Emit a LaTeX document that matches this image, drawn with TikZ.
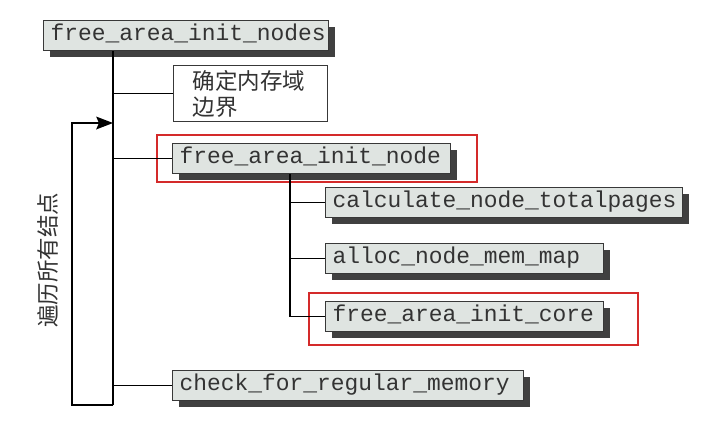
\documentclass[tikz,border=0pt]{standalone}
\usepackage{fontspec}
\setmonofont{Liberation Mono}
\newfontfamily\cjkfont{Noto Sans CJK SC}
\usetikzlibrary{shadows,arrows.meta}
\definecolor{boxfill}{HTML}{DFE4E1}
\definecolor{boxline}{HTML}{383838}
\definecolor{shadowgray}{HTML}{404040}
\definecolor{markred}{HTML}{D42A2A}
\tikzset{
  fnbox/.style={draw=boxline, fill=boxfill, line width=0.8pt, anchor=north west,
    minimum height=0.75cm, inner xsep=0.175cm, inner ysep=0pt, align=left,
    text height=0.32cm, text depth=0.08cm, text=black!80,
    font=\ttfamily\fontsize{16.3}{20}\selectfont,
    drop shadow={shadow xshift=0.15cm, shadow yshift=-0.15cm, fill=shadowgray, opacity=1}},
  cjk/.style={font=\cjkfont\fontsize{16}{18.4}\selectfont, text=black!80},
  link/.style={line width=0.9pt},
  redframe/.style={draw=markred, line width=1.4pt},
}
\begin{document}
\begin{tikzpicture}[x=0.025cm,y=-0.025cm]
\useasboundingbox (0,0) rectangle (720,422);
% top level
\node[fnbox, minimum width=7.125cm, text width=6.775cm] (nodes) at (43,20) {free\_area\_init\_nodes};
\node[draw=boxline, line width=0.8pt, fill=white, anchor=north west, minimum width=3.85cm,
  minimum height=1.375cm, inner xsep=0.475cm, text width=2.9cm, align=left, cjk] (zone) at (173,65) {确定内存域\\边界};
\node[fnbox, minimum width=6.95cm, text width=6.6cm] (node) at (172,143) {free\_area\_init\_node};
\node[fnbox, minimum width=8.775cm, text width=8.425cm] (check) at (172,370) {check\_for\_regular\_memory};
% per node
\node[fnbox, minimum width=8.925cm, text width=8.575cm] (calc) at (325,187) {calculate\_node\_totalpages};
\node[fnbox, minimum width=6.95cm, text width=6.6cm] (alloc) at (325,243) {alloc\_node\_mem\_map};
\node[fnbox, minimum width=6.95cm, text width=6.6cm] (core) at (325,301) {free\_area\_init\_core};
% highlights
\draw[redframe] (157,135) rectangle (477,182);
\draw[redframe] (309,293) rectangle (638,345);
% trunk and loop
\coordinate (loopbr) at (113,405);
\coordinate (loopbl) at (72,405);
\coordinate (looptop) at (113,123);
\coordinate (subx) at (290,317);
\draw[link] (nodes.south -| loopbr) -- (loopbr);
\draw[link] (zone.west) -- (zone.west -| loopbr);
\draw[link] (node.west) -- (node.west -| loopbr);
\draw[link] (check.west) -- (check.west -| loopbr);
\draw[link,-{Stealth[length=0.42cm,width=0.32cm,inset=0.07cm]}] (loopbr) -- (loopbl) |- (looptop);
\node[cjk, rotate=90] (loop) at (48,260) {遍历所有结点};
% sub trunk
\draw[link] (node.south -| subx) -- (core.west -| subx);
\draw[link] (calc.west) -- (calc.west -| subx);
\draw[link] (alloc.west) -- (alloc.west -| subx);
\draw[link] (core.west) -- (core.west -| subx);
\end{tikzpicture}
\end{document}
